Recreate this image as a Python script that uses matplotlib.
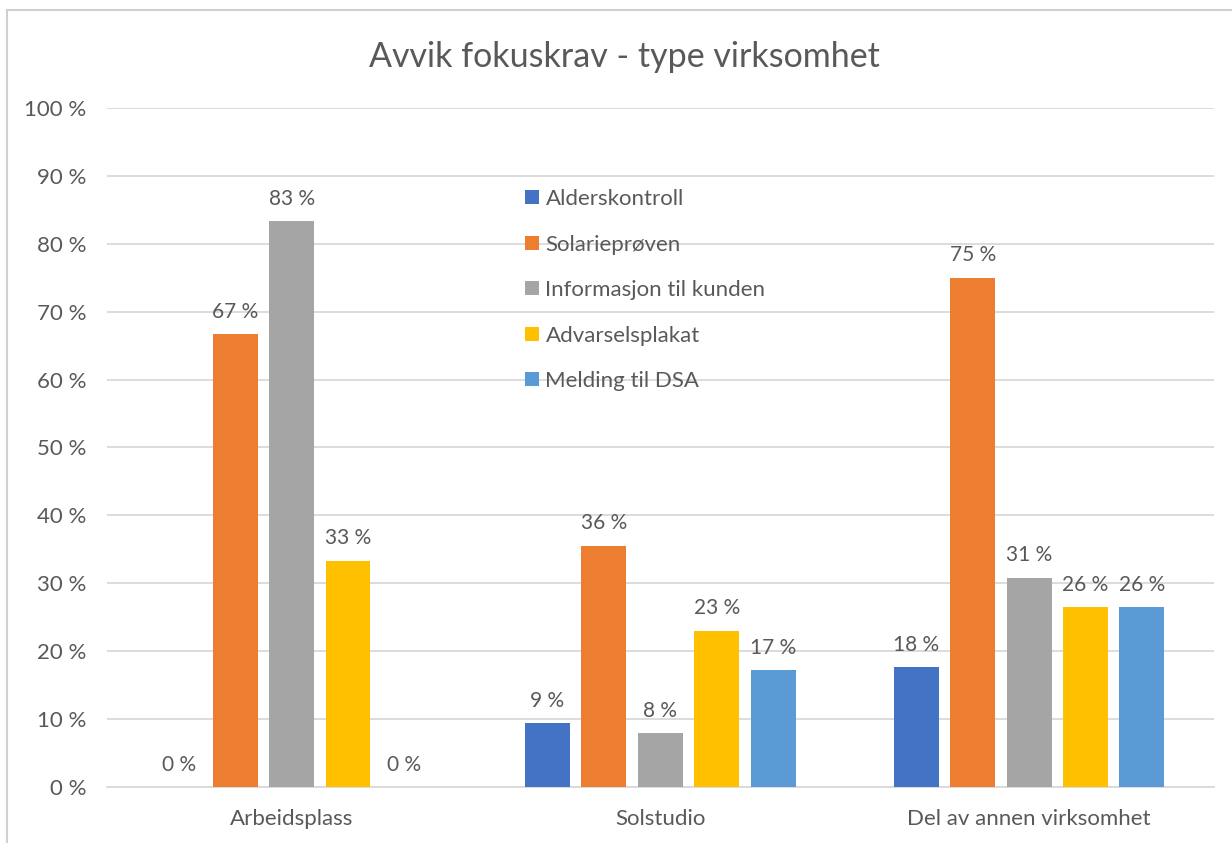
import matplotlib.pyplot as plt
import numpy as np
from matplotlib.lines import Line2D

plt.rcParams['font.family'] = ['Lato', 'DejaVu Sans']

categories = ['Arbeidsplass', 'Solstudio', 'Del av annen virksomhet']
series = ['Alderskontroll', 'Solarieprøven', 'Informasjon til kunden',
          'Advarselsplakat', 'Melding til DSA']
alderskontroll = [0.0, 0.094, 0.176]
solarieproven = [0.667, 0.355, 0.75]
informasjon = [0.833, 0.079, 0.308]
advarselsplakat = [0.333, 0.23, 0.265]
melding = [0.0, 0.172, 0.265]
values = [alderskontroll, solarieproven, informasjon, advarselsplakat, melding]
colors = ['#4472C4', '#ED7D31', '#A5A5A5', '#FFC000', '#5B9BD5']
yticks = np.arange(0, 1.01, 0.1)

txt = '#595959'
fig = plt.figure(figsize=(12.32, 8.43), dpi=100)
ax = fig.add_axes([0.087, 0.0664, 0.898, 0.8056])

x = np.arange(len(categories))
pitch = 0.153
width = 0.122
for i, (name, vals, c) in enumerate(zip(series, values, colors)):
    pos = x + (i - 2) * pitch
    ax.bar(pos, vals, width=width, color=c, label=name, zorder=3)
    for p, v in zip(pos, vals):
        ax.annotate(f'{v*100:.0f} %', (p, v), xytext=(0, 9),
                    textcoords='offset points', ha='center', va='bottom',
                    fontsize=15, color=txt)

ax.set_xlim(-0.5, 2.5)
ax.set_ylim(0, 1.0)
ax.set_yticks(yticks)
ax.set_yticklabels([f'{t*100:.0f} %' for t in yticks])
ax.set_xticks(x)
ax.set_xticklabels(categories)
ax.tick_params(axis='both', length=0, labelsize=16, colors=txt)
ax.tick_params(axis='y', pad=15)
ax.tick_params(axis='x', pad=16)
ax.grid(axis='y', color='#D9D9D9', linewidth=1.3, zorder=0)
for s in ['top', 'right', 'left']:
    ax.spines[s].set_visible(False)
ax.spines['bottom'].set_color('#D9D9D9')
ax.spines['bottom'].set_linewidth(1.3)

fig.text(0.507, 0.932, 'Avvik fokuskrav - type virksomhet', ha='center',
         va='center', fontsize=24.5, color=txt)

leg = ax.legend(loc='upper left', bbox_to_anchor=(0.36, 0.91), frameon=False,
                fontsize=16, labelcolor=txt, handlelength=0.6,
                handleheight=0.6, handletextpad=0.3, labelspacing=1.15)

fig.add_artist(Line2D([7/1232, 7/1232], [0, 1 - 10/843], color='#D0D0D0',
                      linewidth=1.5, transform=fig.transFigure))
fig.add_artist(Line2D([7/1232, 1], [1 - 10/843, 1 - 10/843], color='#D0D0D0',
                      linewidth=1.5, transform=fig.transFigure))

fig.savefig('out.png', dpi=100)
